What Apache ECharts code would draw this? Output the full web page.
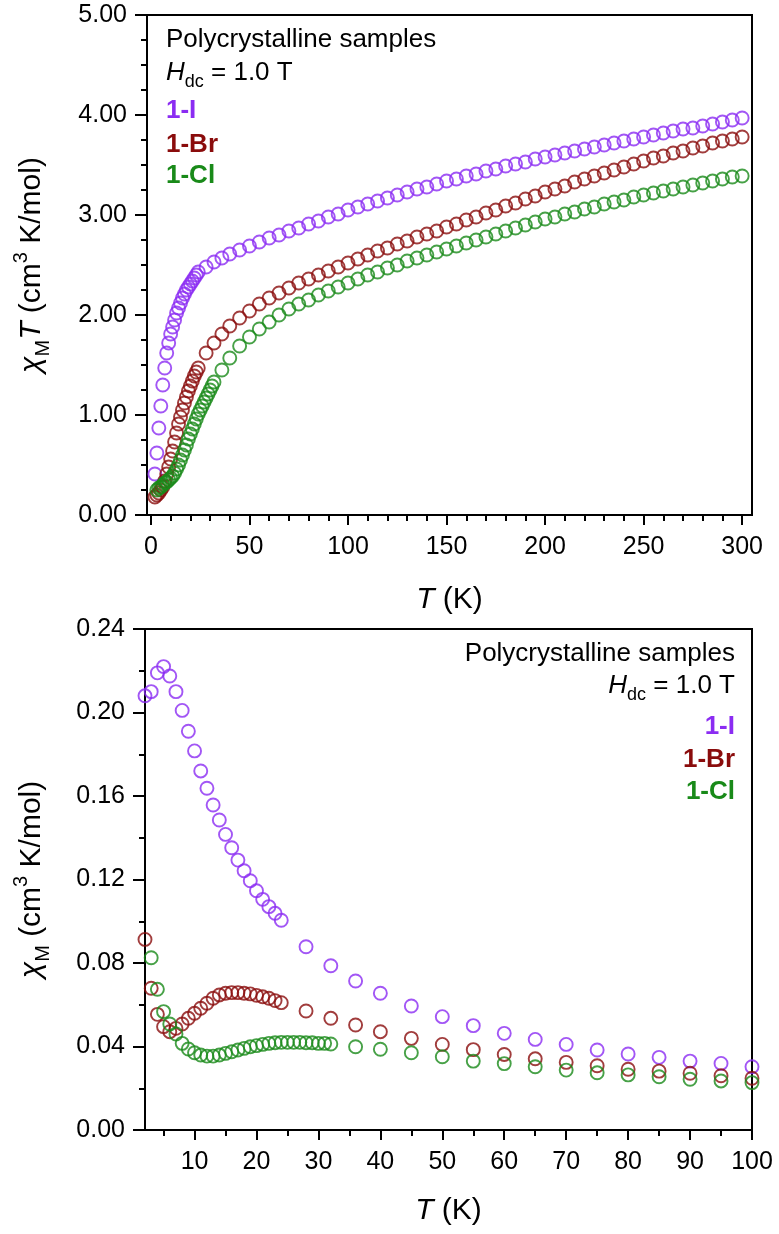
<!DOCTYPE html>
<html>
<head>
<meta charset="utf-8">
<title>chiT and chi vs T</title>
<script src="https://cdn.jsdelivr.net/npm/echarts@6.0.0/dist/echarts.min.js"></script>
<style>
html, body { margin: 0; padding: 0; background: #fff; }
#main { width: 779px; height: 1234px; }
</style>
</head>
<body>
<div id="main"></div>
<script>
// temperatures (K) of the measured points
var T_IBr = [2, 3, 4, 5, 6, 7, 8, 9, 10, 11, 12, 13, 14, 15, 16, 17, 18, 19, 20, 21, 22, 23, 24,
    28, 32, 36, 40, 45, 50, 55, 60, 65, 70, 75, 80, 85, 90, 95, 100,
    105, 110, 115, 120, 125, 130, 135, 140, 145, 150, 155, 160, 165, 170, 175, 180, 185, 190, 195, 200,
    205, 210, 215, 220, 225, 230, 235, 240, 245, 250, 255, 260, 265, 270, 275, 280, 285, 290, 295, 300];
var T_Cl = [3, 4, 5, 6, 7, 8, 9, 10, 11, 12, 13, 14, 15, 16, 17, 18, 19, 20, 21, 22, 23, 24, 25, 26, 27, 28, 29, 30, 31, 32,
    36, 40, 45, 50, 55, 60, 65, 70, 75, 80, 85, 90, 95, 100,
    105, 110, 115, 120, 125, 130, 135, 140, 145, 150, 155, 160, 165, 170, 175, 180, 185, 190, 195, 200,
    205, 210, 215, 220, 225, 230, 235, 240, 245, 250, 255, 260, 265, 270, 275, 280, 285, 290, 295, 300];

// chiM*T (cm3 K/mol), top panel
var chiT_I = [0.41, 0.62, 0.87, 1.09, 1.30, 1.47, 1.62, 1.72, 1.81, 1.88, 1.95, 2.02, 2.07, 2.12, 2.17, 2.21, 2.25, 2.28, 2.31, 2.34, 2.37, 2.40, 2.43,
    2.48, 2.53, 2.57, 2.61, 2.65, 2.69, 2.73, 2.77, 2.80, 2.84, 2.87, 2.91, 2.94, 2.98, 3.01, 3.05,
    3.08, 3.11, 3.14, 3.17, 3.20, 3.23, 3.26, 3.28, 3.31, 3.34, 3.36, 3.39, 3.41, 3.44, 3.46, 3.49, 3.51, 3.53, 3.56, 3.58,
    3.60, 3.62, 3.64, 3.66, 3.68, 3.70, 3.72, 3.74, 3.76, 3.78, 3.80, 3.82, 3.84, 3.86, 3.87, 3.89, 3.91, 3.93, 3.95, 3.97];
var chiT_Br = [0.18, 0.20, 0.22, 0.25, 0.28, 0.34, 0.41, 0.48, 0.56, 0.64, 0.73, 0.82, 0.91, 0.98, 1.05, 1.12, 1.18, 1.24, 1.29, 1.34, 1.39, 1.43, 1.47,
    1.62, 1.72, 1.81, 1.89, 1.97, 2.04, 2.11, 2.17, 2.22, 2.27, 2.32, 2.36, 2.40, 2.44, 2.48, 2.52,
    2.56, 2.60, 2.64, 2.67, 2.71, 2.74, 2.78, 2.81, 2.84, 2.88, 2.91, 2.95, 2.98, 3.02, 3.05, 3.09, 3.12, 3.16, 3.19, 3.23,
    3.26, 3.29, 3.33, 3.36, 3.39, 3.42, 3.45, 3.48, 3.51, 3.54, 3.57, 3.59, 3.62, 3.64, 3.67, 3.69, 3.72, 3.74, 3.76, 3.78];
var chiT_Cl = [0.25, 0.27, 0.28, 0.30, 0.32, 0.33, 0.35, 0.37, 0.39, 0.42, 0.46, 0.50, 0.55, 0.60, 0.65, 0.70, 0.76, 0.81, 0.86, 0.91,
    0.96, 1.01, 1.05, 1.09, 1.13, 1.17, 1.21, 1.25, 1.29, 1.33,
    1.45, 1.57, 1.69, 1.78, 1.86, 1.93, 2.00, 2.06, 2.11, 2.15, 2.20, 2.24, 2.28, 2.32,
    2.36, 2.40, 2.43, 2.47, 2.50, 2.54, 2.57, 2.60, 2.63, 2.66, 2.69, 2.72, 2.75, 2.78, 2.81, 2.84, 2.87, 2.90, 2.93, 2.96,
    2.98, 3.01, 3.03, 3.06, 3.08, 3.11, 3.13, 3.15, 3.18, 3.20, 3.22, 3.24, 3.26, 3.28, 3.30, 3.32, 3.34, 3.36, 3.38, 3.39];

// chiM (cm3/mol), bottom panel, points up to 100 K
var chi_I = [0.208, 0.210, 0.219, 0.222, 0.2175, 0.210, 0.201, 0.191, 0.1816, 0.172, 0.1637, 0.1557, 0.1485, 0.1416, 0.1352, 0.1293,
    0.1242, 0.1194, 0.1146, 0.1105, 0.107, 0.1038, 0.1005,
    0.0878, 0.0787, 0.0714, 0.0655, 0.0594, 0.0543, 0.0500, 0.0463, 0.0434, 0.0410, 0.0383, 0.0364, 0.0348, 0.0330, 0.0319, 0.0303];
var chi_Br = [0.0913, 0.0679, 0.0554, 0.0495, 0.0471, 0.0487, 0.0508, 0.0535, 0.0559, 0.0583, 0.0607, 0.0631, 0.0647, 0.0655, 0.0658,
    0.0658, 0.0655, 0.0652, 0.0645, 0.0638, 0.0631, 0.0620, 0.0610,
    0.0570, 0.0535, 0.0503, 0.0471, 0.0439, 0.0410, 0.0385, 0.0362, 0.0341, 0.0324, 0.0308, 0.0291, 0.0282, 0.0272, 0.0260, 0.0248];
var chi_Cl = [0.0825, 0.0674, 0.0567, 0.0508, 0.0460, 0.0415, 0.0388, 0.0370, 0.0359, 0.0354, 0.0354, 0.0359, 0.0367, 0.0375, 0.0383,
    0.0391, 0.0399, 0.0404, 0.0410, 0.0415, 0.0418, 0.0420, 0.0420, 0.0420, 0.0420, 0.0418, 0.0418, 0.0415, 0.0415, 0.0412,
    0.0399, 0.0387, 0.0370, 0.0351, 0.0330, 0.0318, 0.0303, 0.0287, 0.0274, 0.0264, 0.0255, 0.0243, 0.0235, 0.0227];

// tick positions
var topTicks = [0, 50, 100, 150, 200, 250, 300];
var topMinor = [10, 20, 30, 40, 60, 70, 80, 90, 110, 120, 130, 140, 160, 170, 180, 190, 210, 220, 230, 240, 260, 270, 280, 290];
var botTicks = [10, 20, 30, 40, 50, 60, 70, 80, 90, 100];
var botMinor = [5, 15, 25, 35, 45, 55, 65, 75, 85, 95];

var names = ['1-I', '1-Br', '1-Cl'];
var colors = ['#8b2cf2', '#8a0c0c', '#198a19'];

var FONT = '"Liberation Sans", Arial, sans-serif';

function pairs(t, v) {
    var out = [];
    for (var i = 0; i < v.length; i++) out.push([t[i], v[i]]);
    return out;
}

var nameRich = {
    i: {fontStyle: 'italic', fontSize: 30, lineHeight: 42, verticalAlign: 'middle', fontFamily: FONT, color: '#000'},
    n: {fontSize: 30, lineHeight: 42, verticalAlign: 'middle', fontFamily: FONT, color: '#000'},
    sub: {fontSize: 20, lineHeight: 15, verticalAlign: 'bottom', fontFamily: FONT, color: '#000'},
    sup: {fontSize: 20, lineHeight: 24, verticalAlign: 'top', fontFamily: FONT, color: '#000'}
};

function xAx(grid, min, max, ticks, len, showLine, name, gap) {
    return {
        type: 'value', gridIndex: grid, position: 'bottom', min: min, max: max,
        name: name || '', nameLocation: 'middle', nameGap: gap || 0,
        nameTextStyle: {fontFamily: FONT, fontSize: 30, color: '#000', rich: nameRich},
        axisLine: {show: showLine, onZero: false, lineStyle: {color: '#000', width: 2}},
        axisTick: {show: true, customValues: ticks, length: len, lineStyle: {color: '#000', width: 2}},
        axisLabel: {show: showLine, customValues: ticks, margin: 20, fontSize: 25, fontFamily: FONT, color: '#000'},
        splitLine: {show: false}
    };
}

function yAx(grid, max, interval, minorSplit, name, gap) {
    return {
        type: 'value', gridIndex: grid, min: 0, max: max, interval: interval,
        name: name, nameLocation: 'middle', nameGap: gap,
        nameTextStyle: {fontFamily: FONT, fontSize: 30, color: '#000', rich: nameRich},
        axisLine: {show: true, onZero: false, lineStyle: {color: '#000', width: 2}},
        axisTick: {show: true, length: 12, lineStyle: {color: '#000', width: 2}},
        minorTick: {show: true, splitNumber: minorSplit, length: 6, lineStyle: {color: '#000', width: 2}},
        axisLabel: {margin: 20, fontSize: 25, fontFamily: FONT, color: '#000',
            formatter: function (v) { return v.toFixed(2); }},
        splitLine: {show: false}
    };
}

var series = [];
var topData = [pairs(T_IBr, chiT_I), pairs(T_IBr, chiT_Br), pairs(T_Cl, chiT_Cl)];
var botData = [pairs(T_IBr, chi_I), pairs(T_IBr, chi_Br), pairs(T_Cl, chi_Cl)];
for (var k = 0; k < 3; k++) {
    series.push({type: 'scatter', name: names[k], xAxisIndex: 0, yAxisIndex: 0, data: topData[k],
        symbol: 'circle', symbolSize: 13, silent: true,
        itemStyle: {color: 'rgba(0,0,0,0)', borderColor: colors[k], borderWidth: 1.9}});
    series.push({type: 'scatter', name: names[k], xAxisIndex: 2, yAxisIndex: 1, data: botData[k],
        symbol: 'circle', symbolSize: 13, silent: true,
        itemStyle: {color: 'rgba(0,0,0,0)', borderColor: colors[k], borderWidth: 1.9}});
}

var txtRich = {
    i: {fontStyle: 'italic', fontSize: 26, lineHeight: 37, verticalAlign: 'middle', fontFamily: FONT, fill: '#000'},
    n: {fontSize: 26, lineHeight: 37, verticalAlign: 'middle', fontFamily: FONT, fill: '#000'},
    sub: {fontSize: 18, lineHeight: 14, verticalAlign: 'bottom', fontFamily: FONT, fill: '#000'}
};

function note(x, y, text, align, color, bold) {
    return {type: 'text', x: x, y: y, silent: true,
        style: {text: text, fontSize: 26, fontFamily: FONT, fontWeight: bold ? 'bold' : 'normal',
            fill: color || '#000', align: align, verticalAlign: 'middle'}};
}
function hdc(x, y, align) {
    return {type: 'text', x: x, y: y, silent: true,
        style: {text: '{i|H}{sub|dc}{n| = 1.0 T}', rich: txtRich, fontSize: 26, fontFamily: FONT,
            fill: '#000', align: align, verticalAlign: 'middle'}};
}

var option = {
    animation: false,
    backgroundColor: '#fff',
    grid: [
        {left: 147, top: 15, width: 605, height: 500, show: true, borderColor: '#000', borderWidth: 2},
        {left: 145, top: 629, width: 607, height: 501, show: true, borderColor: '#000', borderWidth: 2}
    ],
    xAxis: [
        xAx(0, -2, 305, topTicks, 10, true, '{i|T}{n| (K)}', 64),
        xAx(0, -2, 305, topMinor, 6, false),
        xAx(1, 2, 100, botTicks, 10, true, '{i|T}{n| (K)}', 60),
        xAx(1, 2, 100, botMinor, 6, false)
    ],
    yAxis: [
        yAx(0, 5, 1, 4, '{i|χ}{sub|M}{i|T}{n| (cm}{sup|3}{n| K/mol)}', 94),
        yAx(1, 0.24, 0.04, 2, '{i|χ}{sub|M}{n| (cm}{sup|3}{n| K/mol)}', 92)
    ],
    series: series,
    graphic: [
        note(166, 40, 'Polycrystalline samples', 'left'),
        hdc(166, 73, 'left'),
        note(166, 111, '1-I', 'left', colors[0], true),
        note(166, 145, '1-Br', 'left', colors[1], true),
        note(166, 176, '1-Cl', 'left', colors[2], true),
        note(735, 654, 'Polycrystalline samples', 'right'),
        hdc(735, 686, 'right'),
        note(735, 727, '1-I', 'right', colors[0], true),
        note(735, 760, '1-Br', 'right', colors[1], true),
        note(735, 792, '1-Cl', 'right', colors[2], true)
    ]
};

var myChart = echarts.init(document.getElementById('main'));
myChart.setOption(option);
</script>
</body>
</html>
